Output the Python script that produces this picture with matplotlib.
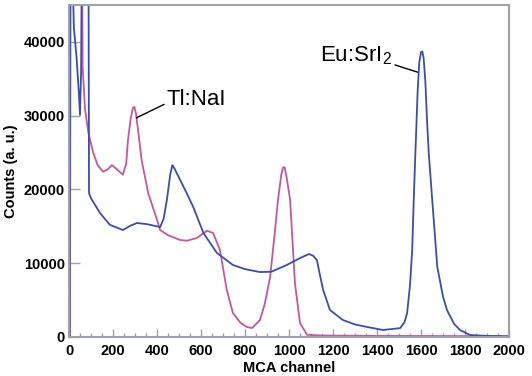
import matplotlib
matplotlib.use("Agg")
import matplotlib.pyplot as plt
from matplotlib.ticker import MultipleLocator

plt.rcParams['font.family'] = ['Liberation Sans', 'DejaVu Sans']
plt.rcParams['mathtext.fontset'] = 'custom'
plt.rcParams['mathtext.rm'] = 'Liberation Sans'

# Eu:SrI2 spectrum (channel, counts)
eu_channel = [0, 3, 6, 16, 22, 34, 45, 50, 55, 60, 88, 91, 100, 141, 186, 245, 280, 309,
              354, 414, 430, 445, 460, 470, 480, 505, 535, 565, 611, 672, 745, 800, 868,
              920, 990, 1050, 1091, 1110, 1127, 1140, 1155, 1186, 1245, 1300, 1355, 1427,
              1505, 1525, 1537, 1550, 1560, 1567, 1575, 1585, 1592, 1600, 1606, 1612, 1620,
              1628, 1635, 1651, 1674, 1700, 1718, 1750, 1777, 1823, 1900, 2000]
eu_counts = [0, 0, 60000, 50000, 42000, 38000, 33000, 30100, 36000, 60000, 60000, 19500,
             18800, 16800, 15200, 14500, 15100, 15450, 15300, 14900, 16000, 18600, 22000,
             23300, 22800, 21300, 19500, 17600, 14100, 11400, 9760, 9200, 8800, 8850, 9760,
             10700, 11250, 11000, 10400, 8500, 6400, 3660, 2300, 1700, 1360, 950, 1200, 2000,
             3250, 7000, 11800, 18600, 25400, 33500, 37200, 38600, 38700, 37800, 34500,
             29000, 25000, 18600, 9500, 5500, 3660, 1800, 950, 270, 150, 100]

# Tl:NaI spectrum (channel, counts)
nai_channel = [0, 4, 8, 58, 62, 73, 88, 110, 130, 155, 175, 195, 215, 245, 260, 268, 280,
               290, 297, 305, 315, 330, 360, 400, 414, 450, 505, 536, 580, 627, 655, 686,
               717, 745, 780, 808, 832, 868, 890, 914, 935, 950, 965, 973, 980, 990, 1005,
               1015, 1027, 1050, 1082, 1150, 1400, 1800, 2000]
nai_counts = [0, 0, 60000, 60000, 36600, 30800, 27700, 25000, 23300, 22400, 22700, 23300,
              22800, 22000, 23500, 26700, 29500, 31000, 31200, 30200, 27800, 24000, 19500,
              15900, 14500, 13800, 13150, 13050, 13400, 14400, 14100, 11800, 6400, 3250,
              1900, 1360, 1220, 2300, 4500, 8100, 14000, 18600, 22000, 23000, 23000, 21500,
              18600, 13500, 7300, 1900, 300, 200, 150, 120, 100]

x_ticks = [0, 200, 400, 600, 800, 1000, 1200, 1400, 1600, 1800, 2000]
y_ticks = [0, 10000, 20000, 30000, 40000]

blue = '#3a4eab'
magenta = '#c4579f'
frame = '#a0a0a8'

fig = plt.figure(figsize=(5.32, 3.76), dpi=100)
ax = fig.add_axes([69/532, 39/376, 440/532, 332/376])

ax.plot(nai_channel, nai_counts, color=magenta, lw=1.3)
ax.plot(eu_channel, eu_counts, color=blue, lw=1.3)

ax.set_xlim(0, 2000)
ax.set_ylim(0, 45000)
ax.set_xticks(x_ticks)
ax.set_yticks(y_ticks)
ax.xaxis.set_minor_locator(MultipleLocator(50))
ax.tick_params(axis='x', which='major', direction='in', length=6, width=1,
               color=frame, pad=5, labelsize=10.5)
ax.tick_params(axis='x', which='minor', direction='in', length=3, width=1, color=frame)
ax.tick_params(axis='y', which='major', direction='in', length=8, width=1,
               color=frame, pad=3, labelsize=10.5)
for lab in ax.get_xticklabels() + ax.get_yticklabels():
    lab.set_fontweight('bold')

for s in ax.spines.values():
    s.set_color(frame)
    s.set_linewidth(1.5)

ax.set_xlabel('MCA channel', fontsize=10.5, fontweight='bold', labelpad=2)
ax.set_ylabel('Counts (a. u.)', fontsize=10.5, fontweight='bold', labelpad=4)

ax.annotate('Tl:NaI', xy=(306, 29700), xytext=(445, 31400), fontsize=16,
            va='baseline', ha='left',
            arrowprops=dict(arrowstyle='-', color='k', lw=1, shrinkA=0, shrinkB=0,
                            relpos=(0, 0.35)))
ax.annotate('Eu:SrI$_{\\mathregular{2}}$', xy=(1584, 35900), xytext=(1142, 37300),
            fontsize=16, va='baseline', ha='left',
            arrowprops=dict(arrowstyle='-', color='k', lw=1, shrinkA=0, shrinkB=0,
                            relpos=(1, 0.15)))

fig.savefig('out.png', dpi=100)
